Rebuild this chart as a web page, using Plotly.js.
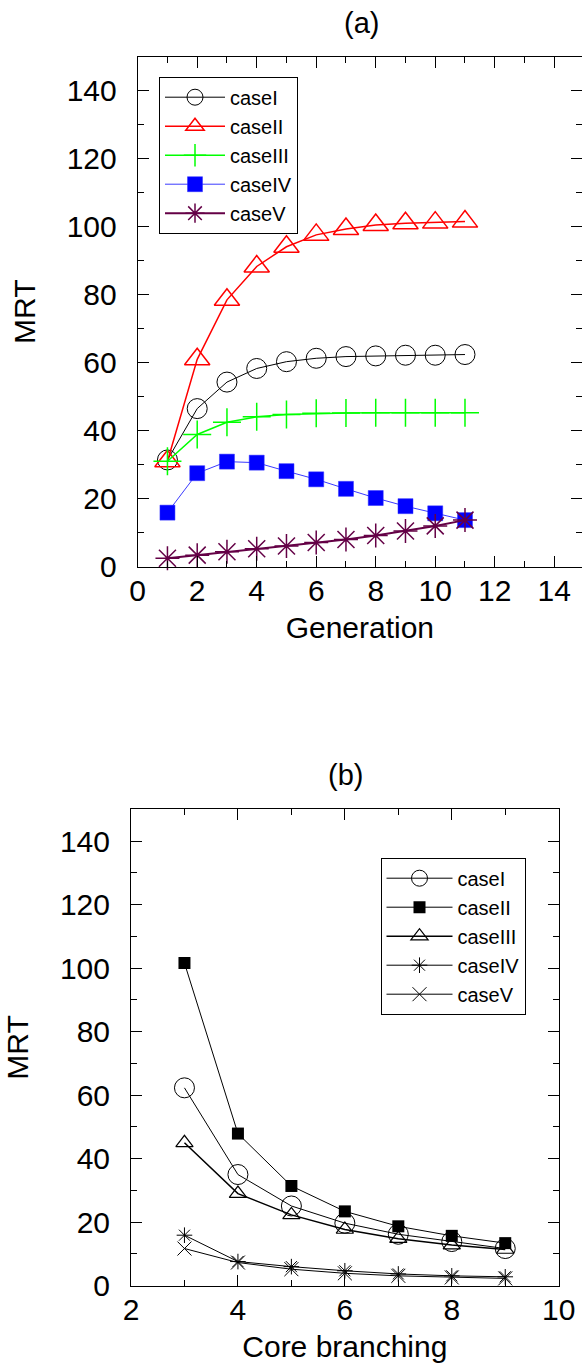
<!DOCTYPE html>
<html>
<head>
<meta charset="utf-8">
<script src="https://cdn.plot.ly/plotly-3.0.1.min.js"></script>
<style>
html, body { margin: 0; padding: 0; overflow: hidden; background: #fff; }
#chart { width: 582px; height: 1366px; }
</style>
</head>
<body>
<div id="chart"></div>
<script>
// ---- Data ----
const generation = [1, 2, 3, 4, 5, 6, 7, 8, 9, 10, 11];
const caseI_a   = [31.4, 46.5, 54.3, 58.3, 60.3, 61.3, 61.8, 62.0, 62.2, 62.2, 62.4];
const caseII_a  = [31.0, 61.0, 78.5, 88.3, 94.1, 97.6, 99.3, 100.5, 101.0, 101.2, 101.5];
const caseIII_a = [31.0, 38.9, 42.5, 44.1, 44.8, 45.1, 45.2, 45.3, 45.3, 45.3, 45.3];
const caseIV_a  = [15.9, 27.5, 30.9, 30.6, 28.1, 25.7, 22.9, 20.2, 17.8, 15.7, 13.7];
const caseV_a   = [2.5, 3.4, 4.4, 5.3, 6.1, 7.1, 8.0, 9.2, 10.5, 12.0, 13.7];

const branching = [3, 4, 5, 6, 7, 8, 9];
const caseI_b   = [62.3, 35.0, 25.1, 19.7, 16.2, 13.9, 11.7];
const caseII_b  = [101.6, 47.9, 31.4, 23.4, 18.7, 15.7, 13.4];
const caseIII_b = [45.0, 29.0, 22.3, 17.7, 14.8, 12.8, 11.4];
const caseIV_b  = [15.9, 7.6, 6.0, 4.7, 3.7, 3.1, 2.8];
const caseV_b   = [11.7, 7.3, 5.2, 3.9, 3.1, 2.6, 2.3];

const seriesNames = ['caseI', 'caseII', 'caseIII', 'caseIV', 'caseV'];
const xTicksA = [0, 2, 4, 6, 8, 10, 12, 14];
const xTicksB = [2, 4, 6, 8, 10];
const yTicks = [0, 20, 40, 60, 80, 100, 120, 140];

// ---- Layout geometry ----
const W = 582, H = 1366;
const FONT = 'Liberation Sans, Arial, Helvetica, sans-serif';

function tr(x, y, name, xa, ya, leg, line, marker) {
  return { x: x, y: y, name: name, xaxis: xa, yaxis: ya, legend: leg,
           type: 'scatter', mode: 'lines+markers', line: line, marker: marker,
           cliponaxis: false };
}

const data = [
  tr(generation, caseI_a, seriesNames[0], 'x', 'y', 'legend',
     {color: '#000000', width: 1},
     {symbol: 'circle-open', size: 20, color: '#000000', line: {color: '#000000', width: 1}}),
  tr(generation, caseII_a, seriesNames[1], 'x', 'y', 'legend',
     {color: '#ff0000', width: 1.5},
     {symbol: 'triangle-up-open', size: 22, color: '#ff0000', line: {color: '#ff0000', width: 1.5}}),
  tr(generation, caseIII_a, seriesNames[2], 'x', 'y', 'legend',
     {color: '#00ff00', width: 1.5},
     {symbol: 'cross-thin-open', size: 20, color: '#00ff00', line: {color: '#00ff00', width: 1.5}}),
  tr(generation, caseIV_a, seriesNames[3], 'x', 'y', 'legend',
     {color: '#3a3aff', width: 1},
     {symbol: 'square', size: 15, color: '#0000ff', line: {color: '#3030ff', width: 0.5}}),
  tr(generation, caseV_a, seriesNames[4], 'x', 'y', 'legend',
     {color: '#640046', width: 2},
     {symbol: 'asterisk-open', size: 20, color: '#640046', line: {color: '#640046', width: 1.5}}),

  tr(branching, caseI_b, seriesNames[0], 'x2', 'y2', 'legend2',
     {color: '#000000', width: 1},
     {symbol: 'circle-open', size: 20, color: '#000000', line: {color: '#000000', width: 1}}),
  tr(branching, caseII_b, seriesNames[1], 'x2', 'y2', 'legend2',
     {color: '#000000', width: 1},
     {symbol: 'square', size: 12, color: '#000000', line: {color: '#000000', width: 0}}),
  tr(branching, caseIII_b, seriesNames[2], 'x2', 'y2', 'legend2',
     {color: '#000000', width: 1.5},
     {symbol: 'triangle-up-open', size: 15, color: '#000000', line: {color: '#000000', width: 1.2}}),
  tr(branching, caseIV_b, seriesNames[3], 'x2', 'y2', 'legend2',
     {color: '#000000', width: 1},
     {symbol: 'asterisk-open', size: 13, color: '#000000', line: {color: '#000000', width: 1}}),
  tr(branching, caseV_b, seriesNames[4], 'x2', 'y2', 'legend2',
     {color: '#000000', width: 1},
     {symbol: 'x-thin-open', size: 14, color: '#000000', line: {color: '#000000', width: 1}})
];

function axisCommon() {
  return {
    showline: true, linecolor: '#000', linewidth: 1, mirror: 'allticks',
    ticks: 'inside', ticklen: 11, tickwidth: 1, tickcolor: '#000',
    showgrid: false, zeroline: false, fixedrange: true,
    tickfont: {family: FONT, size: 30, color: '#000'},
    title: {font: {family: FONT, size: 30, color: '#000'}}
  };
}

// pixel -> paper helpers
const px = v => v / W;
const py = v => 1 - v / H;

// panel (a) plot box runs from x=137.7 px to just past the right page edge
const aLeft = 137.7, aRightFull = 584;
const aRangeMax = 15 * (W - aLeft) / (aRightFull - aLeft);

const xaxis = Object.assign(axisCommon(), {
  domain: [px(aLeft), 1], range: [0, aRangeMax], anchor: 'y',
  tickmode: 'array', tickvals: xTicksA, ticktext: xTicksA.map(String),
  minor: {ticks: 'inside', ticklen: 6, dtick: 1, tick0: 0, tickcolor: '#000', showgrid: false},
  ticklabelstandoff: -3
});
xaxis.title.text = 'Generation';
xaxis.title.standoff = 11;

const yaxis = Object.assign(axisCommon(), {
  domain: [py(566.7), py(56.7)], range: [0, 150], anchor: 'x',
  tickmode: 'array', tickvals: yTicks, ticktext: yTicks.map(String),
  minor: {ticks: 'inside', ticklen: 6, dtick: 10, tick0: 0, tickcolor: '#000', showgrid: false},
  ticklabelstandoff: 14
});
yaxis.title.text = 'MRT';
yaxis.title.standoff = 22;

const xaxis2 = Object.assign(axisCommon(), {
  domain: [px(131), px(558.7)], range: [2, 10], anchor: 'y2',
  tickmode: 'array', tickvals: xTicksB, ticktext: xTicksB.map(String),
  minor: {ticks: 'inside', ticklen: 6, dtick: 1, tick0: 0, tickcolor: '#000', showgrid: false},
  ticklabelstandoff: -3
});
xaxis2.title.text = 'Core branching';
xaxis2.title.standoff = 11;

const yaxis2 = Object.assign(axisCommon(), {
  domain: [py(1285.7), py(809.3)], range: [0, 150], anchor: 'x2',
  tickmode: 'array', tickvals: yTicks, ticktext: yTicks.map(String),
  minor: {ticks: 'inside', ticklen: 6, dtick: 10, tick0: 0, tickcolor: '#000', showgrid: false},
  ticklabelstandoff: 14
});
yaxis2.title.text = 'MRT';
yaxis2.title.standoff = 22;

const legendCommon = {
  bgcolor: '#ffffff', bordercolor: '#000', borderwidth: 1,
  font: {family: FONT, size: 20, color: '#000'},
  xanchor: 'left', yanchor: 'top', tracegroupgap: 0,
  itemwidth: 60,
  itemclick: false, itemdoubleclick: false
};

const layout = {
  width: W, height: H,
  margin: {l: 0, r: 0, t: 0, b: 0, pad: 0},
  paper_bgcolor: '#fff', plot_bgcolor: '#fff',
  font: {family: FONT, color: '#000'},
  showlegend: true,
  xaxis: xaxis, yaxis: yaxis, xaxis2: xaxis2, yaxis2: yaxis2,
  legend: Object.assign({}, legendCommon, {x: px(159), y: py(76.7)}),
  legend2: Object.assign({}, legendCommon, {x: px(380.5), y: py(857.7), itemwidth: 66}),
  annotations: [
    {text: '(a)', xref: 'paper', yref: 'paper', x: px(361), y: py(23), xanchor: 'center', yanchor: 'middle',
     showarrow: false, font: {family: FONT, size: 29, color: '#000'}},
    {text: '(b)', xref: 'paper', yref: 'paper', x: px(345), y: py(775), xanchor: 'center', yanchor: 'middle',
     showarrow: false, font: {family: FONT, size: 29, color: '#000'}}
  ]
};

Plotly.newPlot('chart', data, layout, {staticPlot: true, displayModeBar: false});
</script>
</body>
</html>
